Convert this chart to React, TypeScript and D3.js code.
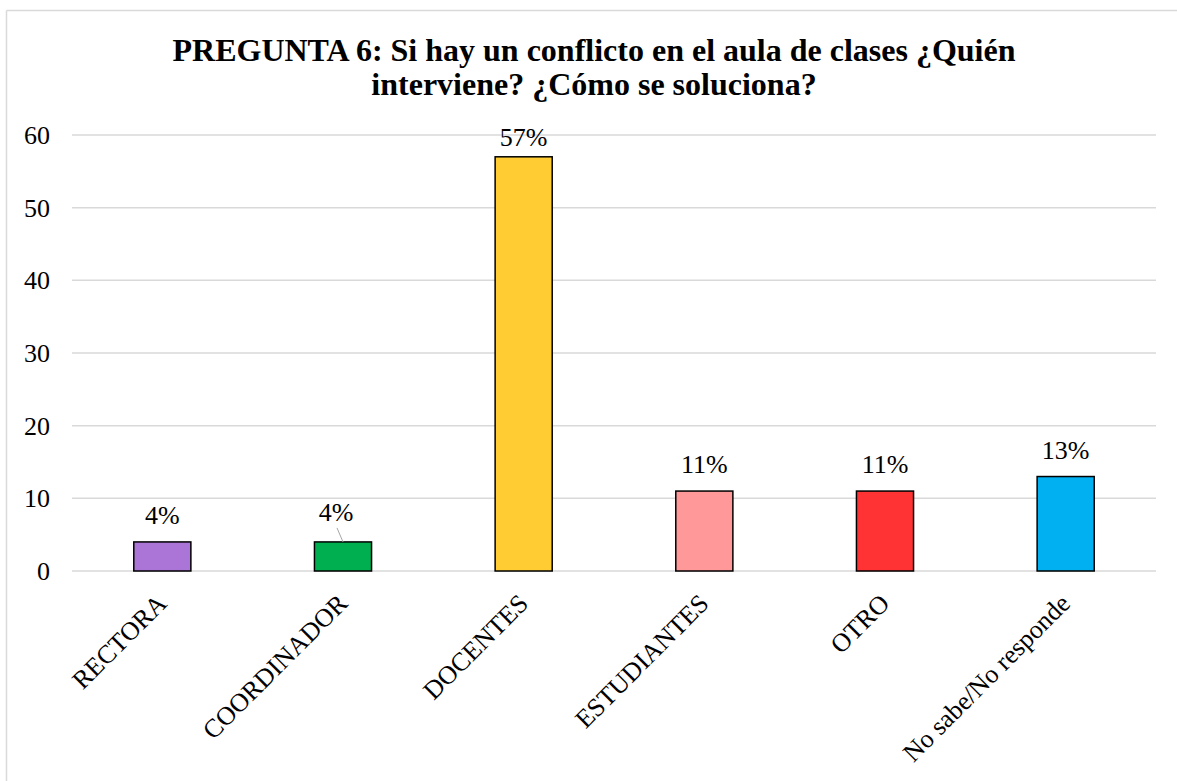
import React from "react";
import * as d3 from "d3";

const categories = ["RECTORA", "COORDINADOR", "DOCENTES", "ESTUDIANTES", "OTRO", "No sabe/No responde"];
const values = [4, 4, 57, 11, 11, 13];
const valueLabels = ["4%", "4%", "57%", "11%", "11%", "13%"];
const barColors = ["#AA75D6", "#00B050", "#FFCD33", "#FF9999", "#FF3333", "#00B0F0"];
const yTicks = [0, 10, 20, 30, 40, 50, 60];
const titleLines = ["PREGUNTA 6: Si hay un conflicto en el aula de clases ¿Quién", "interviene? ¿Cómo se soluciona?"];

const W = 1177;
const H = 781;
const plot = { left: 72, right: 1156, top: 135, bottom: 571 };
const FONT = "'Liberation Serif', 'Times New Roman', serif";

export default function App() {
  const x = d3.scaleBand<string>().domain(categories).range([plot.left, plot.right]).paddingInner(0.684).paddingOuter(0.342);
  const y = d3.scaleLinear().domain([0, 60]).range([plot.bottom, plot.top]);
  const bw = x.bandwidth();

  return (
    <svg width={W} height={H} style={{ position: "absolute", left: 0, top: 0, display: "block" }} fontFamily={FONT}>
      <rect x={0} y={0} width={W} height={H} fill="#ffffff" />
      <line x1={6.5} x2={W} y1={10.5} y2={10.5} stroke="#d9d9d9" strokeWidth={1.5} />
      <line x1={6.5} x2={6.5} y1={10.5} y2={H} stroke="#d9d9d9" strokeWidth={1.5} />

      {titleLines.map((t, i) => (
        <text key={i} x={594} y={61 + i * 34} textAnchor="middle" fontSize={32} fontWeight="bold" fill="#000">
          {t}
        </text>
      ))}

      {yTicks.map((t) => (
        <g key={t}>
          <line x1={plot.left} x2={plot.right} y1={y(t)} y2={y(t)} stroke="#d9d9d9" strokeWidth={1.5} />
          <text x={50} y={y(t)} dy="0.35em" textAnchor="end" fontSize={26} fill="#000">
            {t}
          </text>
        </g>
      ))}

      {categories.map((c, i) => {
        const bx = x(c)!;
        const cx = bx + bw / 2;
        const top = y(values[i]);
        const isCoord = c === "COORDINADOR";
        const labelX = cx + (isCoord ? -7 : 0);
        const labelY = Math.max(top - (isCoord ? 21 : 18), plot.top + 11);
        return (
          <g key={c}>
            <rect x={bx} y={top} width={bw} height={plot.bottom - top} fill={barColors[i]} stroke="#000" strokeWidth={1.5} />
            {isCoord && (
              <line x1={cx - 6} y1={top - 14} x2={cx} y2={top} stroke="#a6a6a6" strokeWidth={1} />
            )}
            <text x={labelX} y={labelY} textAnchor="middle" fontSize={26} fill="#000">
              {valueLabels[i]}
            </text>
            <text
              transform={`translate(${cx + 6},${605}) rotate(-45)`}
              textAnchor="end"
              fontSize={26}
              fill="#000"
            >
              {c}
            </text>
          </g>
        );
      })}
    </svg>
  );
}
